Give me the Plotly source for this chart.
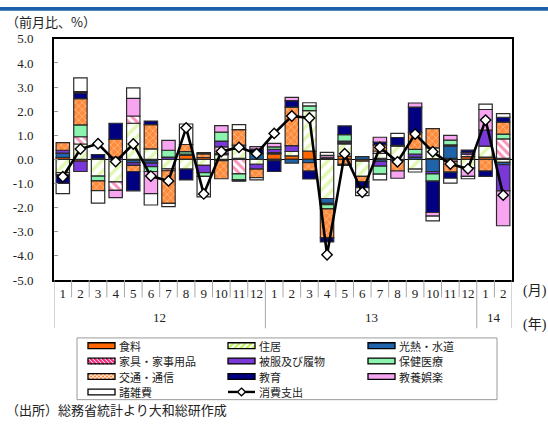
import plotly.graph_objects as go

W, H = 548, 426

# ---- data -------------------------------------------------------------
months = ["1", "2", "3", "4", "5", "6", "7", "8", "9", "10", "11", "12",
          "1", "2", "3", "4", "5", "6", "7", "8", "9", "10", "11", "12",
          "1", "2"]
years = ["12", "13", "14"]
ytick_vals = [5, 4, 3, 2, 1, 0, -1, -2, -3, -4, -5]
ytick_text = ["5.0", "4.0", "3.0", "2.0", "1.0", "0.0",
              "-1.0", "-2.0", "-3.0", "-4.0", "-5.0"]

# contributions by category (% pt, month on month)
food = [0.08, -0.07, 0, 0, -0.03, -0.05, 0, 0.17, 0.08, -0.05, 0.05, 0,
        0.23, 0.15, 0.35, 0.03, 0.14, -0.07, 0.05, -0.05, 0, 0.03, 0.05, 0.12,
        0.10, 0.05]
housing = [-0.55, 0.64, -0.69, -0.93, 1.50, 0.44, -0.39, -0.40, -0.25, 0.20, 0.40, -0.20,
           0, 0.18, 1.67, -1.62, 0.50, -0.63, 0.20, 0.55, -0.40, 0.45, 0, -0.35,
           0.45, -0.12]
utilities = [0.18, 0, 0.05, 0, -0.10, -0.10, 0, 0.05, 0, 0.05, 0.14, 0.25,
             0.05, -0.15, -0.13, -0.20, 0.05, 0.12, -0.08, 0, 0.10, -0.50, 0.50, 0,
             0, -0.10]
furniture = [-0.09, 0.30, 0, -0.35, 0.30, 0, -0.08, 0, 0, 0.27, -0.60, 0,
             -0.05, 0, 0, 0.06, 0, 0, 0.10, 0.03, 0, 0, -0.08, 0.10,
             0, 0.80]
clothing = [0.12, -0.43, 0, 0.10, -0.12, -0.15, 0.10, 0, -0.30, 0.24, 0, -0.20,
            0.14, 0.24, 0, -0.05, 0.07, 0, -0.20, 0, 0.12, -0.10, 0.05, 0.07,
            0.67, -1.08]
medical = [0, 0.49, -0.20, 0, 0, -0.20, 0.28, 0.10, -0.15, 0.37, -0.25, 0,
           0.10, 0, 0.20, -0.18, 0.27, 0, -0.33, 0, 0.20, -0.30, 0.20, 0,
           0, 0.20]
transport = [0.32, 1.09, -0.40, 0.73, -0.25, 1.00, -1.35, 0.30, 0.15, -0.75, 0.65, -0.35,
             0, 1.60, -0.35, -1.20, -0.20, -0.22, 0.25, -0.43, 0.70, 0.80, -0.45, 0,
             -0.48, 0.50]
education = [-0.35, 0.24, 0.15, 0.67, -0.80, 0.15, 0, -0.45, 0.05, 0, -0.05, 0.18,
             -0.45, 0.27, -0.33, -0.17, 0.36, -0.25, 0.12, 0.33, 1.05, -1.30, -0.25, 0.10,
             -0.22, 0.20]
recreation = [0, 0.05, 0, -0.30, 0.73, -0.92, 0.41, 0, 0, 0.27, 0, 0.10,
              0.15, 0.13, 0, 0.08, -0.05, 0, 0.20, -0.30, 0.17, -0.15, 0.20, -0.35,
              0.85, -1.45]
misc = [-0.43, 0.57, -0.52, 0, 0.44, -0.47, -0.14, 0.85, -0.85, 0, 0.20, -0.10,
        0, 0, 0.13, 0.12, 0, -0.33, -0.24, 0.17, -0.12, -0.20, -0.20, -0.10,
        0.22, 0.15]
# total consumption expenditure
total = [-0.72, 0.43, 0.65, -0.09, 0.64, -0.69, -0.89, 1.31, -1.43, 0.33, 0.50, 0.24,
         1.08, 1.80, 1.72, -3.95, 0.24, -1.36, 0.50, -0.10, 1.05, 0.32, -0.19, -0.39,
         1.63, -1.48]

# ---- styles -----------------------------------------------------------
EDGE_C = "#2a2a2a"
GREEN_STRIPE = "#c4f26a"
PINK_STRIPE = "#f5257a"
TRANS_BG = "#ff8a3a"

series = [
    ("食料", food, dict(color="#ff6600"), "solid"),
    ("住居", housing, dict(color="white",
                         pattern=dict(shape="/", fgcolor=GREEN_STRIPE, bgcolor="white",
                                      size=8, solidity=0.45)), "slash"),
    ("光熱・水道", utilities, dict(color="#1f64aa"), "solid"),
    ("家具・家事用品", furniture, dict(color="white",
                                 pattern=dict(shape="\\", fgcolor=PINK_STRIPE, bgcolor="white",
                                              size=6, solidity=0.5)), "back"),
    ("被服及び履物", clothing, dict(color="#7a38d8"), "solid"),
    ("保健医療", medical, dict(color="#8af3ae"), "solid"),
    ("交通・通信", transport, dict(color=TRANS_BG,
                              pattern=dict(shape="x", fgcolor="white", bgcolor=TRANS_BG,
                                           size=5, solidity=0.25)), "cross"),
    ("教育", education, dict(color="#000080"), "solid"),
    ("教養娯楽", recreation, dict(color="#f7a4f1"), "solid"),
    ("諸雑費", misc, dict(color="white"), "solid"),
]

FONT = "Liberation Serif, Noto Sans CJK JP, serif"
JFONT = "Noto Sans CJK JP, sans-serif"
idx = list(range(len(months)))

fig = go.Figure()
for name, vals, mk, _ in series:
    fig.add_trace(go.Bar(
        x=idx, y=[v if v != 0 else None for v in vals], name=name,
        marker=dict(line=dict(color=EDGE_C, width=1.2), **mk),
        showlegend=False,
    ))

fig.add_trace(go.Scatter(
    x=idx, y=total, name="消費支出", mode="lines+markers",
    line=dict(color="black", width=2.6),
    marker=dict(symbol="diamond", size=8, color="white",
                line=dict(color="black", width=1.4)),
    showlegend=False,
))


def px_x(p):
    return p / W


def px_y(p):
    return 1 - p / H


PLOT_L, PLOT_R, PLOT_T, PLOT_B = 54, 512, 33, 283

shapes = []


def seg(x0, y0, x1, y1, color, width):
    shapes.append(dict(type="line", xref="paper", yref="paper",
                       x0=px_x(x0), y0=px_y(y0), x1=px_x(x1), y1=px_y(y1),
                       line=dict(color=color, width=width)))


def stripes(L, T, R, B, direction, step, color, width):
    """diagonal stripes clipped to the box [L,R]x[T,B] (pixel units)"""
    h = B - T
    a = L - h
    while a < R:
        s0, s1 = max(0, L - a), min(h, R - a)
        if s1 > s0:
            if direction == "/":
                seg(a + s0, B - s0, a + s1, B - s1, color, width)
            else:
                seg(a + s0, T + s0, a + s1, T + s1, color, width)
        a += step


def note(x, y, text, size=13, family=FONT, xref="paper", xanchor="center"):
    return dict(x=x, y=px_y(y), xref=xref, yref="paper", xanchor=xanchor,
                yanchor="middle", text=text, showarrow=False, borderpad=0,
                font=dict(size=size, family=family, color="#222"))


# month / year separators under the plot
n = len(months)
for k in range(n + 1):
    long_line = k == 0 or k == n or months[k] == "1"
    shapes.append(dict(type="line", xref="x", yref="paper",
                       x0=k - 0.5, x1=k - 0.5, y0=px_y(PLOT_B), y1=px_y(333 if long_line else 301),
                       line=dict(color="#a8a8a8", width=1)))
# header band
shapes.append(dict(type="rect", xref="paper", yref="paper", x0=0, x1=1,
                   y0=px_y(4), y1=1, fillcolor="#1a5fa8", line=dict(width=0)))

annotations = []

# ---- legend box (3 columns, row-major like the series order) -------------
LEG_L, LEG_T, LEG_R, LEG_B = 77, 343, 497, 407
shapes.append(dict(type="rect", xref="paper", yref="paper",
                   x0=px_x(LEG_L), x1=px_x(LEG_R), y0=px_y(LEG_B), y1=px_y(LEG_T),
                   line=dict(color="#9a9a9a", width=1), fillcolor="rgba(0,0,0,0)"))
col_x = [88, 228, 368]
row_y = [351, 367, 383, 399]
SW, SH = 27, 6
entries = [(name, mk, kind) for name, _, mk, kind in series] + [("消費支出", None, "line")]
for i, (name, mk, kind) in enumerate(entries):
    cx, cy = col_x[i % 3], row_y[i // 3]
    if kind == "line":
        seg(cx, cy, cx + SW, cy, "black", 2.4)
        mx = cx + SW / 2
        shapes.append(dict(type="path", xref="paper", yref="paper",
                           path="M {} {} L {} {} L {} {} L {} {} Z".format(
                               px_x(mx), px_y(cy - 4), px_x(mx + 4), px_y(cy),
                               px_x(mx), px_y(cy + 4), px_x(mx - 4), px_y(cy)),
                           fillcolor="white", line=dict(color="black", width=1.3)))
    else:
        L, T, R, B = cx, cy - SH / 2, cx + SW, cy + SH / 2
        shapes.append(dict(type="rect", xref="paper", yref="paper",
                           x0=px_x(L), x1=px_x(R), y0=px_y(B), y1=px_y(T),
                           fillcolor=mk["color"], line=dict(width=0)))
        if kind == "slash":
            stripes(L, T, R, B, "/", 6, GREEN_STRIPE, 2.5)
        elif kind == "back":
            stripes(L, T, R, B, "\\", 4, PINK_STRIPE, 2)
        elif kind == "cross":
            stripes(L, T, R, B, "/", 4, "white", 1)
            stripes(L, T, R, B, "\\", 4, "white", 1)
        shapes.append(dict(type="rect", xref="paper", yref="paper",
                           x0=px_x(L), x1=px_x(R), y0=px_y(B), y1=px_y(T),
                           fillcolor="rgba(0,0,0,0)", line=dict(color="black", width=1.3)))
    annotations.append(note(px_x(cx + SW + 3), cy, name, size=11, family=JFONT,
                            xanchor="left"))

# year labels centred under their months
starts = [k for k in range(n) if months[k] == "1"]
ends = starts[1:] + [n]
for yr, s, e in zip(years, starts, ends):
    annotations.append(note((s + e - 1) / 2, 322, yr, xref="x"))
annotations += [
    note(px_x(522), 294, "(月)", size=14, xanchor="left"),
    note(px_x(522), 330, "(年)", size=14, xanchor="left"),
    note(px_x(5), 15, "（前月比、%）", family=JFONT, xanchor="left"),
    note(px_x(5), 417, "（出所）総務省統計より大和総研作成", family=JFONT, xanchor="left"),
]

fig.update_layout(
    width=W, height=H,
    margin=dict(l=0, r=0, t=0, b=0),
    paper_bgcolor="white", plot_bgcolor="white",
    barmode="relative", bargap=0.24,
    showlegend=False,
    font=dict(family=FONT, size=13, color="#222"),
    xaxis=dict(domain=[px_x(PLOT_L), px_x(PLOT_R)], range=[-0.5, n - 0.5],
               tickvals=idx, ticktext=months, ticks="", showgrid=False,
               zeroline=False, showline=True, linecolor="black", linewidth=2,
               mirror=True, tickfont=dict(size=13)),
    yaxis=dict(domain=[px_y(PLOT_B), px_y(PLOT_T)], range=[-5, 5],
               tickvals=ytick_vals, ticktext=ytick_text, ticks="inside",
               ticklen=4, tickcolor="#999", showgrid=False,
               zeroline=True, zerolinecolor="black", zerolinewidth=1,
               showline=True, linecolor="black", linewidth=2, mirror=True,
               ticklabelstandoff=16, tickfont=dict(size=13)),
    shapes=shapes,
    annotations=annotations,
)

fig.write_html("out.html")
